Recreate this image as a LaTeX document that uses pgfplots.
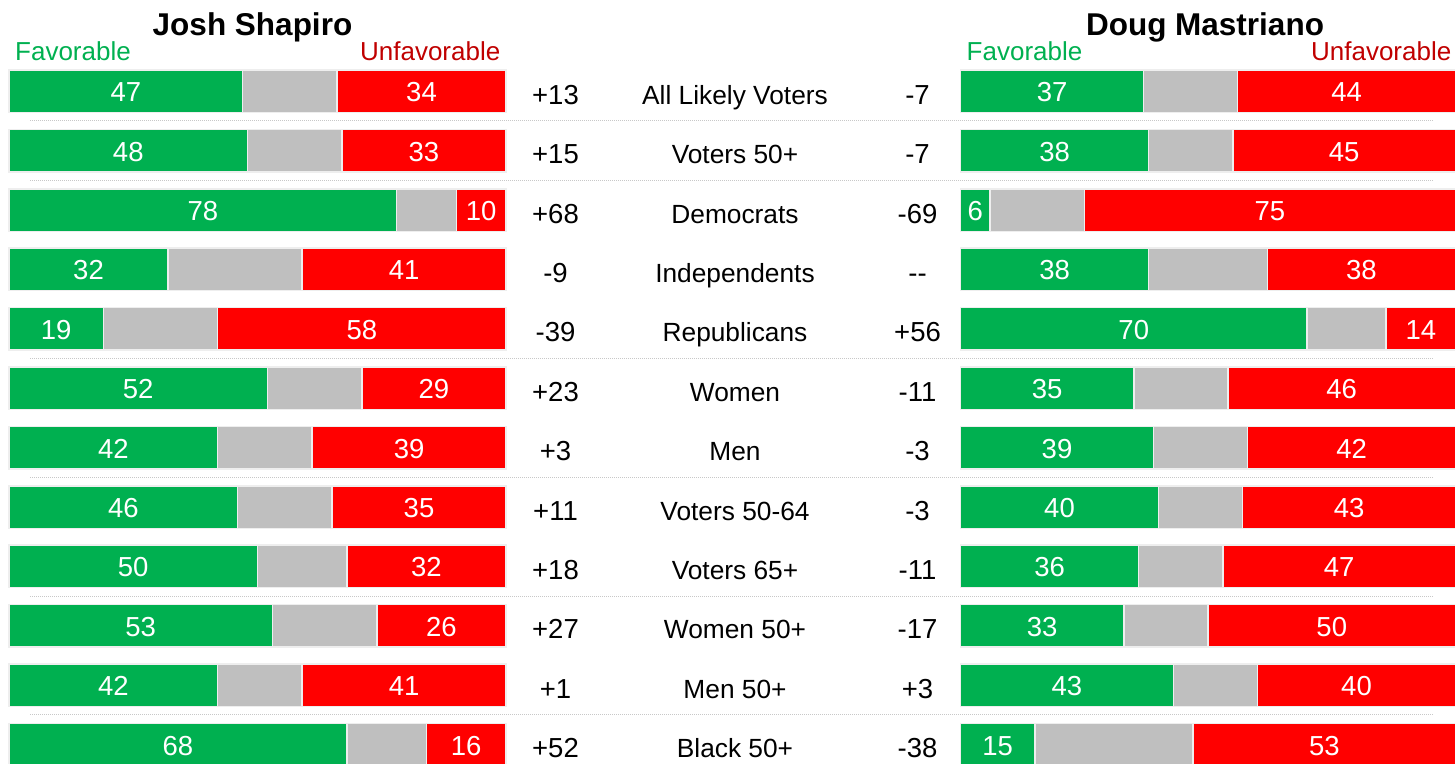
\documentclass[border=0pt]{standalone}
\usepackage{pgfplots}
\pgfplotsset{compat=1.18}
\usepackage{pgfplotstable}
\usepackage{fontspec}
\setmainfont{Liberation Sans}[Ligatures=TeXOff]
\definecolor{fav}{HTML}{00B050}
\definecolor{unf}{HTML}{FF0000}
\definecolor{neu}{HTML}{BFBFBF}
\definecolor{unftxt}{HTML}{C00000}
\definecolor{edge}{HTML}{EEEEEE}
\definecolor{sep}{HTML}{C8C8C8}
\newcommand{\lab}{\fontsize{27.5}{30}\selectfont}
\newcommand{\catf}{\fontsize{26.3}{29}\selectfont}

\pgfplotstableread[col sep=comma]{
row,sf,sn,su,snet,cat,mf,mn,mu,mnet
1,47,19,34,+13,All Likely Voters,37,19,44,-7
2,48,19,33,+15,Voters 50+,38,17,45,-7
3,78,12,10,+68,Democrats,6,19,75,-69
4,32,27,41,-9,Independents,38,24,38,--
5,19,23,58,-39,Republicans,70,16,14,+56
6,52,19,29,+23,Women,35,19,46,-11
7,42,19,39,+3,Men,39,19,42,-3
8,46,19,35,+11,Voters 50-64,40,17,43,-3
9,50,18,32,+18,Voters 65+,36,17,47,-11
10,53,21,26,+27,Women 50+,33,17,50,-17
11,42,17,41,+1,Men 50+,43,17,40,+3
12,68,16,16,+52,Black 50+,15,32,53,-38
}\data

\begin{document}
\begin{tikzpicture}
\pgfplotsset{
  barax/.style={
    scale only axis, height=763pt, anchor=south west,
    xmin=0, xmax=100, ymin=-0.5373, ymax=12.31, y dir=reverse,
    hide axis, xbar stacked, bar width=42.5pt, clip=false,
  },
  segs/.style={draw=edge, line width=1.5pt},
}
% Shapiro bars
\begin{axis}[barax, at={(9pt,0pt)}, width=497pt]
\addplot[segs, fill=fav] table[x=sf, y=row]{\data};
\addplot[segs, fill=neu] table[x=sn, y=row]{\data};
\addplot[segs, fill=unf] table[x=su, y=row]{\data};
\end{axis}
% Mastriano bars
\begin{axis}[barax, at={(960.5pt,0pt)}, width=495pt]
\addplot[segs, fill=fav] table[x=mf, y=row]{\data};
\addplot[segs, fill=neu] table[x=mn, y=row]{\data};
\addplot[segs, fill=unf] table[x=mu, y=row]{\data};
\end{axis}
% labels overlay
\begin{axis}[scale only axis, at={(0pt,0pt)}, anchor=south west,
  width=1455pt, height=763pt, xmin=0, xmax=1455,
  ymin=-0.5373, ymax=12.31, y dir=reverse, hide axis, clip=false,
  point meta=explicit symbolic, nodes near coords,
  every node near coord/.append style={font=\lab, anchor=base, inner sep=0pt}]
\foreach \yy in {1.5,2.5,5.5,7.5,9.5,11.5}{
  \edef\tmp{\noexpand\draw[sep, line width=1pt, dash pattern=on 1.2pt off 0.8pt] (axis cs:30,\yy) -- (axis cs:1433,\yy);}
  \tmp
}
\addplot[draw=none, mark=none, nodes near coords style={text=white, yshift=-10.4pt}]
  table[x expr={9+4.97*\thisrow{sf}/2}, y=row, meta=sf]{\data};
\addplot[draw=none, mark=none, nodes near coords style={text=white, yshift=-10.4pt}]
  table[x expr={506-4.97*\thisrow{su}/2}, y=row, meta=su]{\data};
\addplot[draw=none, mark=none, nodes near coords style={text=white, yshift=-10.4pt}]
  table[x expr={960.5+4.95*\thisrow{mf}/2}, y=row, meta=mf]{\data};
\addplot[draw=none, mark=none, nodes near coords style={text=white, yshift=-10.4pt}]
  table[x expr={1455.5-4.95*\thisrow{mu}/2}, y=row, meta=mu]{\data};
\addplot[draw=none, mark=none, nodes near coords style={text=black, yshift=-13pt}]
  table[x expr={555.5}, y=row, meta=snet]{\data};
\addplot[draw=none, mark=none, nodes near coords style={text=black, yshift=-13pt, font=\catf}]
  table[x expr={735}, y=row, meta=cat]{\data};
\addplot[draw=none, mark=none, nodes near coords style={text=black, yshift=-13pt}]
  table[x expr={917.5}, y=row, meta=mnet]{\data};
\end{axis}
% titles
\node[anchor=base, inner sep=0pt, font=\bfseries\fontsize{31.5}{34}\selectfont] at (252.5pt,727pt) {Josh Shapiro};
\node[anchor=base, inner sep=0pt, font=\bfseries\fontsize{31.5}{34}\selectfont] at (1205pt,727pt) {Doug Mastriano};
\node[anchor=base west, inner sep=0pt, text=fav, font=\fontsize{26}{29}\selectfont] at (15pt,702.3pt) {Favorable};
\node[anchor=base east, inner sep=0pt, text=unftxt, font=\fontsize{26}{29}\selectfont] at (500.5pt,702.3pt) {Unfavorable};
\node[anchor=base west, inner sep=0pt, text=fav, font=\fontsize{26}{29}\selectfont] at (966.5pt,702.3pt) {Favorable};
\node[anchor=base east, inner sep=0pt, text=unftxt, font=\fontsize{26}{29}\selectfont] at (1451.5pt,702.3pt) {Unfavorable};
\pgfresetboundingbox
\useasboundingbox (0pt,0pt) rectangle (1455pt,763pt);
\end{tikzpicture}
\end{document}
